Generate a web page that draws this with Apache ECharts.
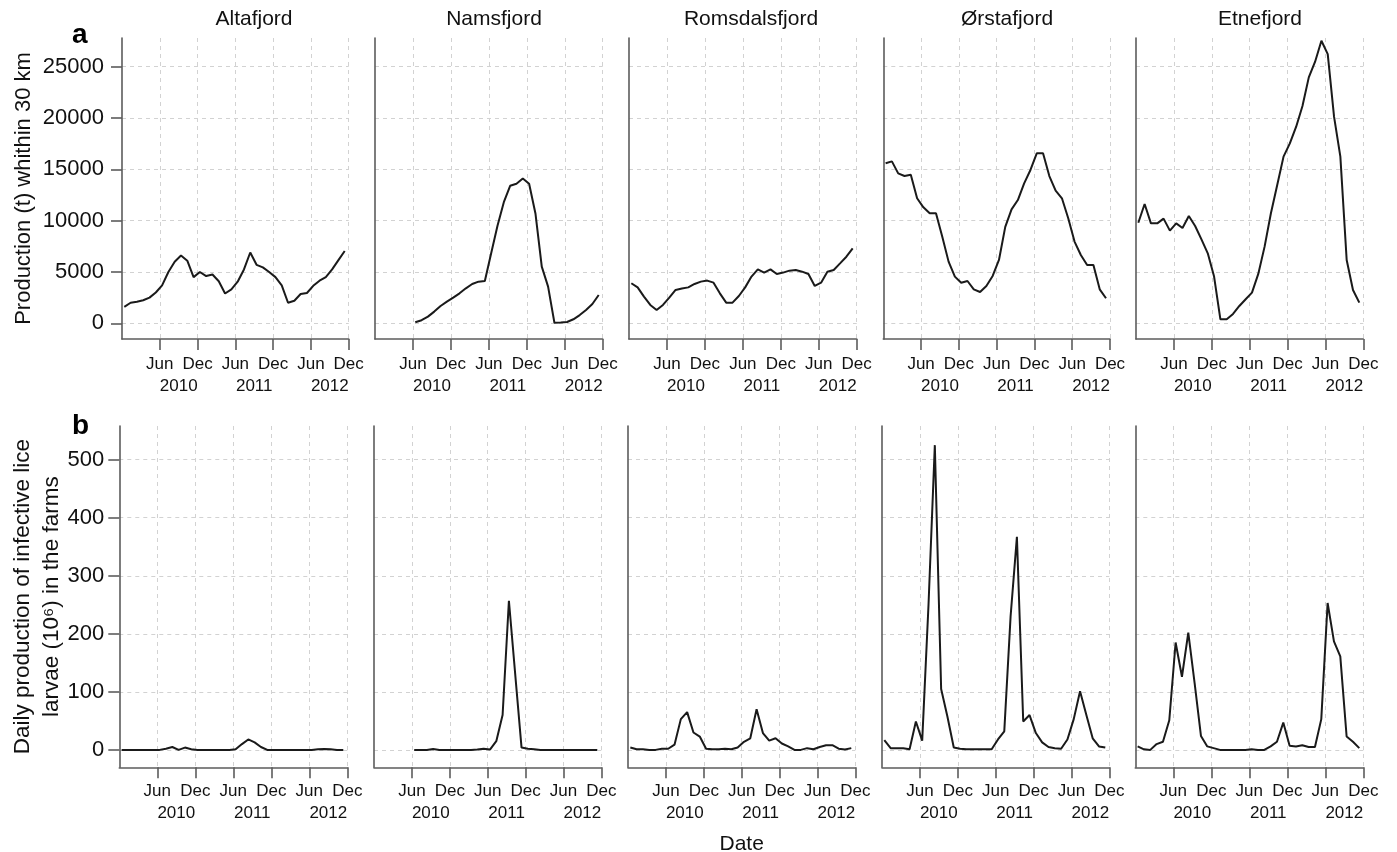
<!DOCTYPE html>
<html>
<head>
<meta charset="utf-8">
<script src="https://cdn.jsdelivr.net/npm/echarts@6/dist/echarts.min.js"></script>
<style>html,body{margin:0;padding:0;background:#fff}#c{width:1397px;height:852px}</style>
</head>
<body>
<div id="c"></div>
<script>
// ---------------- data ----------------
const fjords = ['Altafjord', 'Namsfjord', 'Romsdalsfjord', 'Ørstafjord', 'Etnefjord'];
const months = [
  '2009-12','2010-01','2010-02','2010-03','2010-04','2010-05','2010-06','2010-07','2010-08','2010-09','2010-10','2010-11',
  '2010-12','2011-01','2011-02','2011-03','2011-04','2011-05','2011-06','2011-07','2011-08','2011-09','2011-10','2011-11',
  '2011-12','2012-01','2012-02','2012-03','2012-04','2012-05','2012-06','2012-07','2012-08','2012-09','2012-10','2012-11'
];
const sampleDay = 12; // day of month of each monthly sample

// Production (t) within 30 km
const prodAlta = [1600,2000,2100,2250,2500,3000,3700,5000,6000,6600,6100,4500,5000,4600,4750,4100,2900,3300,4050,5250,6900,5700,5450,5000,4500,3700,2000,2200,2850,2950,3650,4150,4500,5250,6150,7050];
const prodNams = [null,null,null,null,null,null,100,300,650,1140,1690,2110,2500,2920,3410,3830,4060,4120,6820,9500,11800,13400,13600,14100,13600,10700,5520,3570,50,80,130,390,800,1300,1880,2760];
const prodRoms = [3900,3500,2600,1790,1300,1790,2500,3250,3400,3500,3830,4060,4160,3960,2920,2010,2010,2660,3500,4550,5260,4940,5260,4810,4940,5130,5200,5030,4810,3640,3960,5030,5200,5840,6490,7300];
const prodOrst = [15590,15780,14610,14350,14480,12180,11300,10720,10720,8440,6010,4550,3960,4120,3310,3050,3640,4610,6170,9400,11100,12010,13640,14940,16560,16560,14350,12920,12180,10230,7960,6660,5680,5680,3310,2440];
const prodEtne = [9800,11620,9740,9740,10200,9030,9740,9290,10460,9480,8180,6820,4550,390,390,910,1690,2340,2990,4810,7470,10720,13480,16240,17530,19160,21170,23960,25490,27530,26230,20130,16240,6170,3250,2010];

// Daily production of infective lice larvae (10^6)
const liceAlta = [0,0,0,0,0,0,0,2,5,0,4,1,0,0,0,0,0,0,1,10,18,13,5,0,0,0,0,0,0,0,0,1,1.5,1,0,0];
const liceNams = [null,null,null,null,null,null,0,0,0,1.5,0,0,0,0,0,0,0.5,2,0.5,15,60,257,130,4,2,1,0,0,0,0,0,0,0,0,0,0];
const liceRoms = [4,1,1,0,0,2,2,9,53,65,30,23,2,1,1,2,1,4,14,20,70,29,16,20,11,6,0,0,3,1,5,8,8,2,0.5,3];
const liceOrst = [17,3,3,3,1,49,16,250,525,105,57,4,2,1,1,1,1,1,18,32,230,367,49,60,29,13,5,3,2,18,53,101,60,20,6,4];
const liceEtne = [6,1,0,10,14,51,185,126,202,115,24,6,3,0,0,0,0,0,1,0,0,6,14,47,7,6,8,5,5,53,253,187,161,23,14,3];

// tick labels
const xTickMonths = ['2010-06','2010-12','2011-06','2011-12','2012-06','2012-12'];
const xTickText   = ['Jun','Dec','Jun','Dec','Jun','Dec'];
const yearMonths  = ['2010-09','2011-09','2012-09'];
const yearText    = ['2010','2011','2012'];
const prodTicks = [0,5000,10000,15000,20000,25000];
const liceTicks = [0,100,200,300,400,500];

// ---------------- helpers ----------------
const ORIGIN = '2009-12';
function monthPos(s){
  const a = s.split('-').map(Number), o = ORIGIN.split('-').map(Number);
  return (a[0]-o[0])*12 + (a[1]-o[1]);
}
function toPairs(vals){
  const out = [];
  months.forEach((m,i)=>{ if(vals[i]!=null) out.push([monthPos(m)+(sampleDay-1)/30, vals[i]]); });
  return out;
}
const xTickVals = xTickMonths.map(monthPos);
const yearVals = yearMonths.map(monthPos);
const X_MIN = monthPos('2009-12'), X_MAX = monthPos('2012-12');

// ---------------- layout / style ----------------
const FONT = "'Liberation Sans', Arial, Helvetica, sans-serif";
const AXIS_COLOR = '#5c5c5c';
const GRID_LINE = {show:true, lineStyle:{color:'#d2d2d2', width:1, type:[4,4]}};

const rows = [
  { lefts:[122,375,629,883.3,1136], rights:[348.7,602.7,856.7,1110,1363.3], top:38, bottom:339,
    min:-1530, max:27800, ticks:prodTicks, data:[prodAlta,prodNams,prodRoms,prodOrst,prodEtne],
    name:'Production (t) whithin 30 km', nameGap:84, labelMargin:18, xMargin:17, yearMargin:39, nameFont:22, nameLH:28 },
  { lefts:[119.3,374,628,882,1135.3], rights:[347.3,601.3,855.3,1109.3,1363.3], top:426, bottom:767.3,
    min:-30, max:558, ticks:liceTicks, data:[liceAlta,liceNams,liceRoms,liceOrst,liceEtne],
    name:'Daily production of infective lice\nlarvae (10⁶) in the farms', nameGap:53, labelMargin:15, xMargin:16, yearMargin:38, nameFont:22.5, nameLH:29 }
];

const grids=[], xAxes=[], yAxes=[], series=[];
rows.forEach((row,r)=>{
  for(let c=0;c<5;c++){
    const gi = grids.length;
    grids.push({left:row.lefts[c], top:row.top, width:row.rights[c]-row.lefts[c], height:row.bottom-row.top,
      containLabel:false, outerBoundsMode:'none'});
    xAxes.push({
      type:'value', gridIndex:gi, min:X_MIN, max:X_MAX, position:'bottom',
      axisLine:{show:true, onZero:false, lineStyle:{color:AXIS_COLOR, width:1.6}},
      axisTick:{show:true, customValues:xTickVals, length:11, lineStyle:{color:AXIS_COLOR, width:1.6}},
      axisLabel:{show:true, customValues:xTickVals, margin:row.xMargin, color:'#111', fontSize:17, fontFamily:FONT,
        formatter:v=>{const i=xTickVals.findIndex(t=>Math.abs(t-v)<1e-6); return i>=0?xTickText[i]:'';}},
      splitLine:GRID_LINE,
      name:(r===1&&c===2)?'Date':'', nameLocation:'middle', nameGap:66, nameMoveOverlap:false,
      nameTextStyle:{color:'#111', fontSize:21, fontFamily:FONT}
    });
    xAxes.push({
      type:'value', gridIndex:gi, min:X_MIN, max:X_MAX, position:'bottom',
      axisLine:{show:false, onZero:false}, axisTick:{show:false, customValues:yearVals}, splitLine:{show:false},
      axisLabel:{show:true, customValues:yearVals, margin:row.yearMargin, color:'#111', fontSize:17, fontFamily:FONT,
        formatter:v=>{const i=yearVals.findIndex(t=>Math.abs(t-v)<1e-6); return i>=0?yearText[i]:'';}}
    });
    yAxes.push({
      type:'value', gridIndex:gi, min:row.min, max:row.max,
      axisLine:{show:true, onZero:false, lineStyle:{color:AXIS_COLOR, width:1.6}},
      axisTick:{show:c===0, customValues:row.ticks, length:11, lineStyle:{color:AXIS_COLOR, width:1.6}},
      axisLabel:{show:c===0, customValues:row.ticks, margin:row.labelMargin, color:'#111', fontSize:22, fontFamily:FONT,
        formatter:v=>String(v)},
      splitLine:GRID_LINE,
      name:c===0?row.name:'', nameLocation:'middle', nameRotate:90, nameGap:row.nameGap, nameMoveOverlap:false,
      nameTextStyle:{color:'#111', fontSize:row.nameFont, fontFamily:FONT, lineHeight:row.nameLH}
    });
    series.push({
      type:'line', name:fjords[c], xAxisIndex:2*gi, yAxisIndex:gi, data:toPairs(row.data[c]),
      showSymbol:false, symbol:'none', silent:true, animation:false,
      lineStyle:{color:'#1a1a1a', width:2}
    });
  }
});

const titleCenters = [254, 494, 751, 1007, 1260];
const titles = fjords.map((f,i)=>({text:f, left:titleCenters[i], top:9, textAlign:'center', padding:0,
  textStyle:{color:'#111', fontSize:21, fontWeight:'normal', fontFamily:FONT}}));
titles.push({text:'a', left:72, top:21, padding:0, textStyle:{color:'#000', fontSize:28, fontWeight:'bold', fontFamily:FONT}});
titles.push({text:'b', left:72, top:412, padding:0, textStyle:{color:'#000', fontSize:28, fontWeight:'bold', fontFamily:FONT}});

const chart = echarts.init(document.getElementById('c'), null, {renderer:'canvas'});
chart.setOption({
  backgroundColor:'#ffffff',
  animation:false,
  title:titles,
  grid:grids, xAxis:xAxes, yAxis:yAxes, series:series
});
</script>
</body>
</html>
